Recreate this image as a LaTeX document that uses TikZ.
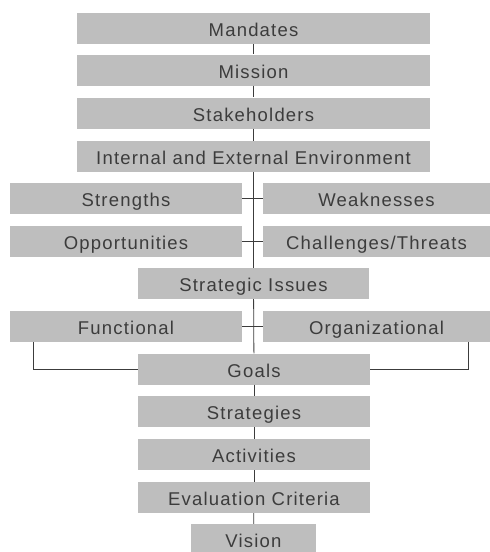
\documentclass[tikz,border=0pt]{standalone}
\usepackage{fontspec}
\setmainfont[LetterSpace=6.5]{Liberation Sans}
\definecolor{boxgray}{HTML}{BEBEBE}
\definecolor{inkgray}{HTML}{3C3C3C}
\tikzset{
  bar/.style={fill=boxgray, inner sep=0pt, minimum height=31pt, text=inkgray,
    text height=17pt, text depth=1pt, font=\fontsize{18.5}{21}\selectfont},
  link/.style={draw=inkgray, line width=0.8pt}
}
\begin{document}
\begin{tikzpicture}[x=1pt, y=-1pt]
        \useasboundingbox (0,0) rectangle (490,552);
        % main column
        \node[bar, minimum width=353pt] (mandates) at (253.5,28.5) {Mandates};
        \node[bar, minimum width=353pt] (mission) at (253.5,70) {Mission};
        \node[bar, minimum width=353pt] (stakeholders) at (253.5,113) {Stakeholders};
        \node[bar, minimum width=353pt] (environment) at (253.5,156.5) {Internal and External Environment};
        % two sided rows
        \node[bar, minimum width=232pt] (strengths) at (126,198) {Strengths};
        \node[bar, minimum width=227pt] (weaknesses) at (376.5,198) {Weaknesses};
        \node[bar, minimum width=232pt] (opportunities) at (126,241) {Opportunities};
        \node[bar, minimum width=227pt] (threats) at (376.5,241) {Challenges/Threats};
        \node[bar, minimum width=231pt] (issues) at (253.5,283.5) {Strategic Issues};
        \node[bar, minimum width=232pt] (functional) at (126,326.5) {Functional};
        \node[bar, minimum width=227pt] (organizational) at (376.5,326.5) {Organizational};
        % lower column
        \node[bar, minimum width=232pt] (goals) at (254,369) {Goals};
        \node[bar, minimum width=232pt] (strategies) at (254,411.5) {Strategies};
        \node[bar, minimum width=232pt] (activities) at (254,454.5) {Activities};
        \node[bar, minimum width=232pt] (criteria) at (254,497.5) {Evaluation Criteria};
        \node[bar, minimum width=125pt] (vision) at (253.5,539.5) {Vision};
        % spine
        \draw[link] (mandates) -- (mission);
        \draw[link] (mission) -- (stakeholders);
        \draw[link] (stakeholders) -- (environment);
        \draw[link] (environment) -- (issues);
        \draw[link] (issues) -- (goals);
        \draw[link] (goals) -- (strategies);
        \draw[link] (strategies) -- (activities);
        \draw[link] (activities) -- (criteria);
        \draw[link] (criteria) -- (vision);
        % cross ticks
        \draw[link] (strengths) -- (weaknesses);
        \draw[link] (opportunities) -- (threats);
        \draw[link] (functional) -- (organizational);
        % brackets into goals
        \draw[link] ([xshift=24pt]functional.south west) |- (goals.west);
        \draw[link] ([xshift=-22pt]organizational.south east) |- (goals.east);
    \end{tikzpicture}
\end{document}
